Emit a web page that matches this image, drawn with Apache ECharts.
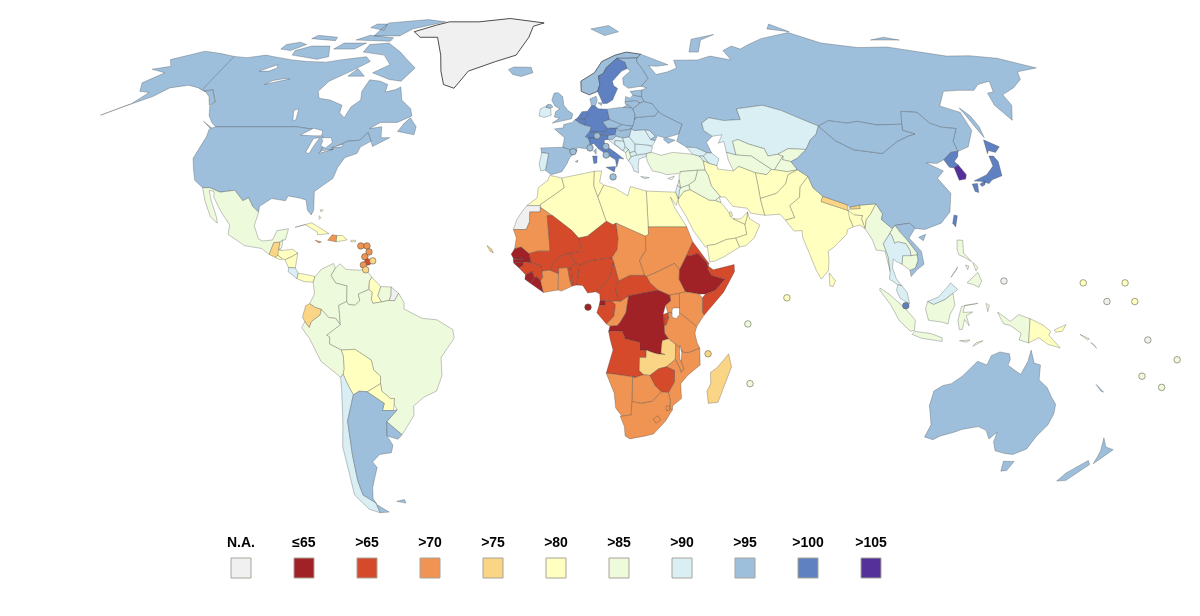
<!DOCTYPE html>
<html>
<head>
<meta charset="UTF-8">
<title>World map</title>
<script src="https://cdn.jsdelivr.net/npm/echarts/dist/echarts.min.js"></script>
<style>
  html, body { margin: 0; padding: 0; background: #fff; }
  #chart { width: 1200px; height: 616px; }
</style>
</head>
<body>
<div id="chart"></div>
<script>
// legend
const bandLabels = ['N.A.', '≤65', '>65', '>70', '>75', '>80', '>85', '>90', '>95', '>100', '>105'];
const bandColors = ['#f0f0f0', '#a02126', '#d44a2b', '#ef9452', '#fbd586', '#ffffc0', '#eefadc', '#d9eff4', '#9dbfdc', '#5f81c1', '#55309a'];
const bandScores = [0, 62, 68, 73, 78, 83, 88, 93, 98, 103, 107];

// which region falls in which band
const regionsNA = ['Greenland', 'Western Sahara', 'French Guiana'];
const regions65 = ['Senegal', 'Gambia', 'Guinea-Bissau', 'Sierra Leone', 'Liberia', 'Equatorial Guinea', 'DR Congo', 'Ethiopia'];
const regionsOver65 = ['Mali', 'Niger', 'Nigeria', 'Guinea', 'Burkina Faso', 'Togo', 'Benin', 'Cameroon', 'Central African Rep.', 'Gabon', 'Angola', 'Zimbabwe', 'Rwanda', 'Burundi', 'Eritrea', 'Somalia', 'Djibouti'];
const regionsOver70 = ['Mauritania', 'Chad', 'Sudan', 'South Sudan', 'Ghana', 'Ivory Coast', 'Congo', 'Kenya', 'Uganda', 'Tanzania', 'Malawi', 'Mozambique', 'Botswana', 'Namibia', 'South Africa', 'Lesotho', 'Eswatini', 'Haiti', 'Jamaica'];
const regionsOver75 = ['Zambia', 'Madagascar', 'Guatemala', 'Ecuador', 'Nepal', 'Bhutan', 'Cape Verde'];
const regionsOver80 = ['Morocco', 'Algeria', 'Tunisia', 'Libya', 'Egypt', 'Saudi Arabia', 'Yemen', 'Oman', 'UAE', 'Qatar', 'Iran', 'Afghanistan', 'Pakistan', 'India', 'Bangladesh', 'Sri Lanka', 'Papua New Guinea', 'Cuba', 'Dominican Rep.', 'Puerto Rico', 'Bahamas', 'Honduras', 'El Salvador', 'Nicaragua', 'Panama', 'Guyana', 'Bolivia', 'Paraguay'];
const regionsOver85 = ['Mexico', 'Belize', 'Colombia', 'Venezuela', 'Suriname', 'Brazil', 'Peru', 'Turkey', 'Iraq', 'Syria', 'Jordan', 'Lebanon', 'Kuwait', 'Cyprus', 'Uzbekistan', 'Turkmenistan', 'Kyrgyzstan', 'Tajikistan', 'Myanmar', 'Laos', 'Cambodia', 'Indonesia', 'Philippines', 'Albania', 'Solomon Islands'];
const regionsOver90 = ['Chile', 'Costa Rica', 'Ireland', 'Portugal', 'Croatia', 'Bosnia', 'Serbia', 'Montenegro', 'North Macedonia', 'Greece', 'Bulgaria', 'Romania', 'Moldova', 'Kazakhstan', 'Georgia', 'Armenia', 'Azerbaijan', 'Israel', 'Thailand', 'Malaysia'];
const regionsOver95 = ['Canada', 'United States', 'Iceland', 'Svalbard', 'Argentina', 'Uruguay', 'Falklands', 'Norway', 'Finland', 'Denmark', 'United Kingdom', 'France', 'Spain', 'Poland', 'Czechia', 'Slovakia', 'Hungary', 'Slovenia', 'Ukraine', 'Belarus', 'Lithuania', 'Latvia', 'Estonia', 'Russia', 'China', 'Mongolia', 'Vietnam', 'Australia', 'New Zealand', 'New Caledonia'];
const regionsOver100 = ['Sweden', 'Netherlands', 'Belgium', 'Germany', 'Switzerland', 'Austria', 'Italy', 'North Korea', 'Japan', 'Taiwan'];
const regionsOver105 = ['South Korea'];
const bandRegions = [regionsNA, regions65, regionsOver65, regionsOver70, regionsOver75, regionsOver80, regionsOver85, regionsOver90, regionsOver95, regionsOver100, regionsOver105];

// small states that the map marks with a dot: name, lon, lat, band index
const dotNames = ['Pohnpei', 'Marshall Is.', 'Nauru', 'Kiribati', 'Tuvalu', 'Samoa', 'Tonga', 'Fiji', 'Palau', 'Maldives', 'Seychelles', 'Comoros', 'Mauritius', 'Sao Tome', 'Antigua', 'Dominica', 'Martinique', 'St Lucia', 'Grenada', 'Barbados', 'St Vincent', 'Trinidad', 'Liechtenstein', 'Andorra', 'Monaco', 'San Marino', 'Vatican', 'Malta', 'Singapore'];
const dotLons = [157.5, 170.3, 164.4, 172.9, 177.4, 187.3, 184.6, 177.6, 133.3, 66.8, 54.9, 43, 56.5, 6.1, -64, -62.1, -61.3, -62.5, -61.5, -60, -62.8, -62, 10, 1.7, 7.4, 12.8, 12.7, 14.6, 103];
const dotLats = [7, 7, 2, 2, -8.3, -13.6, -21, -18, 7.5, 3, -4, -12, -20, 0.5, 16.9, 16.9, 15.3, 14, 12.6, 12.9, 11.8, 10.5, 46.5, 42.2, 43.2, 43.6, 41.3, 35.4, 0.9];
const dotBands = [5, 5, 0, 5, 0, 6, 6, 6, 0, 5, 6, 4, 6, 1, 3, 3, 3, 3, 2, 4, 3, 4, 8, 8, 8, 8, 8, 8, 9];

// hand traced outlines, lon lat pairs, '|' separates the parts of a region
const regionShapes = {
  'Canada': '-141 69.6 -135 69.2 -128 70 -124 69.5 -115 68.5 -108 68 -100 67.8 -95 68.5 -90 69 -85 69.5 -82 68 -87 65 -93 62 -94.5 59 -92.5 57 -88 56.5 -82.5 55 -82 52.9 -79.5 51.5 -79 54.5 -76.7 56.5 -78 59 -77.5 62.4 -73 62 -69.5 61 -69 58.8 -65.5 59.5 -64 60.3 -61.5 56.5 -57 54 -55.7 52 -60 50.2 -66 50.2 -69 48.5 -65 49 -64.5 47.5 -64 46 -61 46 -66 43.6 -67 45 -69 47.4 -71 45.3 -75 45 -79 43.3 -79 42.8 -83 42 -82.5 45.3 -84.5 46.5 -88.5 48.3 -95 49 -123 49 -125 50 -128 52 -130.5 54.7 -130 56 -135 59.5 -137.5 59 -141 60|-62 66 -65 62 -70 62.5 -78 64.5 -73 67 -78 70 -88 71 -88 73.5 -80 74 -72 71 -68 69|-117 70 -105 68.7 -101 69.5 -105 73 -113 73 -118 71.5|-125 72 -120 71.5 -116 73.5 -120 74.3 -125 73.5|-90 76.5 -78 76.5 -75 79 -62 82 -72 83 -90 81.5 -90 79|-96 75 -80 74.6 -80 75.8 -92 76.7|-96 79.5 -88 78.5 -90 81 -95 81|-117 75.5 -105 74.8 -106 76 -116 76.7|-102 72 -93 72 -90 74 -100 74|-87 63.5 -80.5 63.5 -85 65.8|-59 47.7 -53 46.8 -53 49 -56 51.5 -57.5 50|-128.5 50.5 -123.5 48.4 -125 48.8',
  'United States': '-123 49 -95 49 -88.5 48.3 -84.5 46.5 -82.5 45.3 -83 42 -79 42.8 -79 43.3 -75 45 -71 45.3 -69 47.4 -67 45 -70 43.5 -70.5 41.7 -74 40.6 -75.5 38 -76 35 -81 31.5 -80 26.5 -80.5 25.2 -82 26.5 -83 29.2 -85 29.7 -89 30.3 -89.5 29 -94 29.6 -97.3 27.5 -97.2 25.9 -99.5 27.5 -101.4 29.8 -103 29 -106.5 31.8 -111 31.3 -114.8 32.5 -117.1 32.5 -120.5 34.5 -122.5 37.5 -124.3 40.4 -124 46.3 -124.7 48.4|-141 69.6 -148 70.5 -156.5 71.3 -166 68.6 -162 66.5 -168 65.6 -161 64.5 -165 61.5 -162 59 -158 58.7 -160 55.5 -167 52.2 -162 54.5 -155 57.5 -152 60 -146 60.8 -141 60 -137.5 59 -135 59.5 -130 56 -131 55 -134 57.5 -139 59.8',
  'Greenland': '-73 78 -68 76 -60 76 -54 70 -51 65 -48 61 -43.5 59.9 -40 65 -30 68 -22 70 -18 76 -17 80 -12 81.5 -30 83.5 -45 82 -60 82 -65 80.5',
  'Iceland': '-24 65.5 -22 64 -18.5 63.4 -14 64.5 -15 66.2 -22 66.3',
  'Svalbard': '11 79 17 76.6 24 78 20 80.3',
  'Mexico': '-117.1 32.5 -114.8 32.5 -111 31.3 -106.5 31.8 -103 29 -101.4 29.8 -99.5 27.5 -97.2 25.9 -97.8 22.3 -95.9 18.8 -94.5 18.2 -91.5 18.5 -90.5 21 -87 21.5 -87.5 18.5 -88.3 18.5 -89.1 17.9 -91 17.8 -92 14.6 -94.5 16.2 -100 17 -105.5 20 -105.5 22.5 -109 26 -112.5 30 -113 31.5 -114.7 31.8 -113 29 -110 24.5 -109.5 23 -112 24.7 -115 29',
  'Guatemala': '-92 14.6 -91 17.8 -89.1 17.9 -89.2 15.9 -88.2 15.7 -89.3 14.4 -90 13.8',
  'Belize': '-88.3 18.5 -89.1 17.9 -89.2 15.9 -88.4 16.4',
  'Honduras': '-89.2 15.9 -88.2 15.7 -85 16 -83.2 15 -85 14 -87 13.2 -87.8 13.4 -89.3 14.4',
  'El Salvador': '-90 13.8 -89.3 14.4 -87.8 13.4 -88.5 13.2',
  'Nicaragua': '-87 13.2 -85 14 -83.2 15 -83.6 11 -85.7 11.1',
  'Costa Rica': '-85.7 11.1 -83.6 11 -82.6 9.6 -82.9 8.1 -85.7 10',
  'Panama': '-82.9 8.1 -82.6 9.6 -80 9.2 -77.4 8.7 -77.9 7.2 -80.5 7.3',
  'Cuba': '-85 21.9 -80 23.1 -74.2 20.2 -77.7 19.9 -78 20.7 -82 22.6',
  'Haiti': '-74.4 18.4 -71.7 18 -71.7 19.7 -73.2 19.9',
  'Dominican Rep.': '-71.7 18 -68.4 18.5 -69.9 19.7 -71.7 19.7',
  'Jamaica': '-78.3 18.4 -76.3 18 -77 17.7',
  'Puerto Rico': '-67.2 18.4 -65.7 18.4 -65.8 18 -67.2 18',
  'Bahamas': '-78 26.6 -77 26.5 -77.6 26|-78 25 -77.3 24.5 -77.8 24',
  'Colombia': '-77.4 8.7 -75.5 10.7 -72 12.2 -71.3 11 -72.5 9 -71 7 -67.5 6.2 -67.5 2 -69.9 1 -69.5 -4.2 -70.9 -2.5 -73 -2.3 -75.2 -0.1 -77 0.4 -78.8 1.4 -77.4 4 -77.9 7.2',
  'Venezuela': '-71.3 11 -70 12.1 -68 10.6 -64 10.4 -62 10.7 -60 8.5 -60.7 7.5 -61 5.2 -60.7 5.2 -64 4 -63.5 2.2 -65 1 -66.9 1.2 -67.5 2 -67.5 6.2 -71 7 -72.5 9',
  'Guyana': '-60 8.5 -57.2 6 -58 3.5 -56.8 1.9 -59.5 1.5 -60 2.5 -59.8 4.5 -60.7 5.2 -61 5.2 -60.7 7.5',
  'Suriname': '-57.2 6 -54 5.9 -54 3.6 -54.6 2.3 -56.8 1.9 -58 3.5',
  'French Guiana': '-54 5.9 -51.7 4.2 -52.9 2.2 -54.6 2.3 -54 3.6',
  'Brazil': '-51.7 4.2 -50 1.7 -50 0 -44.5 -2.5 -40 -2.9 -35.2 -5.5 -34.8 -7.8 -39 -13 -39 -17.9 -41 -22 -45 -23.6 -48.5 -26 -48.7 -28.5 -53.4 -33.7 -57.6 -30.2 -53.8 -27 -54.6 -25.6 -54.3 -24 -55.5 -24 -58 -22 -58.2 -20 -58 -18 -60 -16.3 -60.5 -13.7 -65.3 -10.8 -69.5 -11 -73 -9.4 -72.9 -7.5 -73.8 -7 -69.5 -4.2 -69.9 1 -67.5 2 -66.9 1.2 -65 1 -63.5 2.2 -64 4 -60.7 5.2 -59.8 4.5 -60 2.5 -59.5 1.5 -56.8 1.9 -54.6 2.3 -52.9 2.2',
  'Ecuador': '-80 0.9 -78.8 1.4 -77 0.4 -75.2 -0.1 -75.6 -1.6 -78.3 -3.4 -79 -5 -80.3 -3.4 -81 -2.2',
  'Peru': '-80.3 -3.4 -79 -5 -78.3 -3.4 -75.6 -1.6 -75.2 -0.1 -73 -2.3 -70.9 -2.5 -69.5 -4.2 -73.8 -7 -72.9 -7.5 -73 -9.4 -69.5 -11 -69 -12.5 -69 -16 -69.5 -17.5 -70.4 -18.3 -76 -14 -79 -8 -81.3 -5',
  'Bolivia': '-69.5 -11 -65.3 -10.8 -60.5 -13.7 -60 -16.3 -58 -18 -58.2 -20 -62.6 -22.2 -65 -22 -67 -23 -68.5 -20 -69.5 -17.5 -69 -16 -69 -12.5',
  'Paraguay': '-58.2 -20 -58 -22 -55.5 -24 -54.3 -24 -54.6 -25.6 -55 -27.2 -58.5 -27.2 -57.6 -25.3 -62.6 -22.2',
  'Chile': '-70.4 -18.3 -69.5 -17.5 -68.5 -20 -67 -23 -70 -30 -71 -39 -72 -46 -72 -50 -69 -52 -68.6 -52.7 -68.6 -55 -72 -54 -75 -50 -74 -44 -73.5 -37 -71.5 -30 -70.5 -22',
  'Argentina': '-65 -22 -62.6 -22.2 -57.6 -25.3 -58.5 -27.2 -55 -27.2 -53.8 -27 -57.6 -30.2 -58.3 -34 -57 -36.5 -58 -38.5 -62 -39 -65 -41 -64 -42.5 -66 -45.5 -67.7 -48 -69 -51 -68.5 -52.5 -69 -52 -72 -50 -72 -46 -71 -39 -70 -30 -67 -23|-68.6 -52.7 -65.2 -54.8 -68.6 -55',
  'Uruguay': '-57.6 -30.2 -53.4 -33.7 -55 -34.9 -58.3 -34',
  'Falklands': '-61 -51.8 -58 -51.3 -58 -52.3',
  'Norway': '5 59 5 62 10.5 64.5 14 68 20 70 25 71 31 70.3 29 69.1 25.7 69 20.5 69 15.5 66 14 64.2 12 63.5 12.3 61 11.2 59 8 58',
  'Sweden': '11.2 59 12.3 61 12 63.5 14 64.2 15.5 66 20.5 69 23.6 67.8 24 65.8 21.5 65 17.3 62 17.5 60.7 18.9 59.8 16.5 56.5 14.3 55.5 12.8 55.5',
  'Finland': '23.6 67.8 20.5 69 25.7 69 29 69.1 28.5 68 30 65.7 31.5 62.8 28 60.5 23 59.9 21.3 61 21.5 63 25 65 24 65.8',
  'Denmark': '8.1 56.8 8.6 54.9 9.9 54.8 10.8 56.3 10.5 57.6|11 55.7 12.6 55.7 12.2 54.9',
  'United Kingdom': '-5.5 50 1.3 51.2 1.7 52.6 0 53.5 -1.5 55 -2 57.5 -3.7 58.6 -5.2 58.5 -6 56.5 -4.8 54.8 -3 54 -4.5 53.2 -4.8 51.7 -3 51.4|-5.5 54.5 -6.2 55.2 -7.3 55.2 -8.1 54.4 -6.3 54.1',
  'Ireland': '-6 52.2 -6.3 54.1 -8.1 54.4 -7.3 55.2 -8.6 54.5 -10 54 -10.3 52 -8.5 51.6',
  'France': '-1.8 43.4 -1.2 46 -4.7 48.4 -1.6 48.7 -1.5 49.6 1.5 50.2 2.5 51 4.2 50 5.8 49.5 8.2 49 7.5 47.6 6 46.3 7 45.9 7.6 44 6 43 3 43.3 3 42.4 0.7 42.7|8.6 42.4 9.5 43 9.4 41.5',
  'Spain': '-9.2 43.2 -1.8 43.4 0.7 42.7 3 42.4 0.5 40.5 -0.3 39 -2 36.8 -5.5 36 -7.4 37.2 -7 39 -6.5 41.7 -8.8 41.9|2.4 39.5 3.3 39.9 3.1 39.3',
  'Portugal': '-8.8 41.9 -6.5 41.7 -7 39 -7.4 37.2 -8.9 37 -9.5 38.8',
  'Netherlands': '3.4 51.4 6 51 7.1 52.3 7 53.3 5 53.2',
  'Belgium': '2.5 51 3.4 51.4 6 51 6.3 50.2 5.8 49.5 4.2 50',
  'Germany': '6 51 7.1 52.3 7 53.3 8.6 54.9 9.9 54.8 11 54 14.2 53.9 14.7 51 12.2 50.3 13.8 48.6 13 47.5 9.6 47.5 7.5 47.6 8.2 49 5.8 49.5 6.3 50.2',
  'Switzerland': '6 46.3 7.5 47.6 9.6 47.5 10.4 46.8 9 45.9 7 45.9',
  'Austria': '9.6 47.5 13 47.5 13.8 48.6 17 48.7 16.2 46.9 13.7 46.5 12.2 46.6 10.4 46.8',
  'Italy': '7 45.9 9 45.9 10.4 46.8 12.2 46.6 13.7 46.5 13.6 45.5 12.3 45.3 12.5 44 16 41.9 18.5 40.2 16.9 40.4 16 38 15.7 40 12.2 41.8 10.2 43 8.8 44.4 7.6 44|12.5 38 15.6 38.2 15.1 36.7|8.2 41 9.7 41 9.5 39.1 8.5 39',
  'Poland': '14.2 53.9 19 54.4 23 54.3 23.5 54 24 52.5 23.6 51 22.6 49.1 19 49.4 18.8 49.6 14.7 51',
  'Czechia': '12.2 50.3 14.7 51 18.8 49.6 17 48.7 13.8 48.6',
  'Slovakia': '17 48.7 18.8 49.6 19 49.4 22.6 49.1 22 48.4 18 47.8',
  'Hungary': '17 48.7 18 47.8 22 48.4 21 46.2 18.7 45.9 16.5 46.4 16.2 46.9',
  'Slovenia': '13.7 46.5 16.2 46.9 16.5 46.4 15.2 45.5 13.6 45.5',
  'Croatia': '13.6 45.5 15.2 45.5 16.5 46.4 18.7 45.9 19 45 16 45.2 15.9 44.2 18.5 42.4 15 44.6',
  'Bosnia': '16 45.2 19 45 19.3 43.5 18.5 42.4 15.9 44.2',
  'Serbia': '18.7 45.9 21 46.2 22.7 44.3 22.5 42.3 20.6 41.9 20.3 42.8 19.3 43.5 19 45',
  'Montenegro': '18.5 42.4 19.3 43.5 20.3 42.8 19.3 41.9',
  'Albania': '19.3 41.9 20.3 42.8 20.6 41.9 21 40.8 20 39.7 19.4 40.5',
  'North Macedonia': '20.6 41.9 22.5 42.3 23 41.3 21 40.8',
  'Greece': '20 39.7 21 40.8 23 41.3 26.3 41.7 26 40.9 23.5 40.2 23 38 23 36.5 21.5 37 21 38.5|23.6 35.5 26.3 35.2 24.8 34.9',
  'Bulgaria': '22.7 44.3 27 44 28.5 43.5 27.8 42 26.3 41.7 23 41.3 22.5 42.3',
  'Romania': '21 46.2 22 48.4 23 48 26.6 48.2 28.2 45.5 29.7 45.2 28.6 43.8 27 44 22.7 44.3',
  'Moldova': '26.6 48.2 28.2 48 30 46.4 28.2 45.5',
  'Ukraine': '23.6 51 24 51.6 31 52 32.5 53.3 34 52.3 40 49.7 38.2 47 35 46.3 33.5 46 36.5 45.3 34 44.4 32.6 45.5 33 46 30.7 46.5 29.7 45.2 28.2 45.5 30 46.4 28.2 48 26.6 48.2 23 48 22 48.4 22.6 49.1',
  'Belarus': '23.6 51 24 51.6 31 52 32.5 53.3 30.8 55.5 28 56.1 26.5 55.7 23.5 54 24 52.5',
  'Lithuania': '21 56 21 55.3 23 54.3 23.5 54 26.5 55.7 25 56.4',
  'Latvia': '21 56 25 56.4 26.5 55.7 28 56.1 27.5 57.5 24.3 57.9 23 57 21.5 57.5',
  'Estonia': '23.5 59 28 59.4 27.5 57.5 24.3 57.9',
  'Russia': '31 70.3 41 67 36 66.5 33 66.7 35 64 40 64.8 44 66 44 68.4 54 68.5 60 69.7 68 68.5 67 71.5 72 73 75 72 80 73.5 88 75.5 104 77.7 113 74 127 72.5 140 72.7 160 69.7 170 69.8 180 69 190 66 180 64.8 177 62.5 170 60 163 58 162 55 157 50.8 155.7 55 158 58.5 160.6 58.8 164 62 158 61 154 59.3 148 59.3 142 59 135.5 54.8 141 53 140 48 135 43.5 130.7 42.3 130.7 43 131 45 135 48.5 130 48.9 127 50 125.5 53 120 53.3 117 49.7 108 49.5 102 50.5 98 50 92 50.7 87.5 49.2 83 51 77 53.5 71 55 61 54 61 51 55 50.7 50 51.5 47 50 47 48 49.5 46.4 47 44.7 48 41.8 46.5 41.9 43 43.3 40 43.4 37 45 38.2 47 40 49.7 34 52.3 32.5 53.3 30.8 55.5 28 56.1 27.5 57.5 28 59.4 30 60 28 60.5 31.5 62.8 30 65.7 28.5 68 29 69.1|52 71 56 75.3 68 77 60 75 56 71|142 54.3 143.5 52 143.5 49 142.5 46 142 49 142 52|20 54.4 22.8 54.4 22 55.2|96 79 105 78 100 81|137 75 150 75 145 76',
  'Turkey': '26.3 41.7 28 42 31 41.2 35 42 41.5 41.5 43.7 41 44.7 39.7 44.8 37.2 42.3 37.2 36.7 36.8 36 36.3 32 36 30.5 36.5 27.5 37 26.2 39.5 26 40.9',
  'Georgia': '40 43.4 43 43.3 46.5 41.9 45 41 43.7 41 41.5 41.5',
  'Armenia': '43.7 41 45 41 46.5 39 44.7 39.7',
  'Azerbaijan': '46.5 41.9 48 41.8 50 40.3 48.9 38.4 46.5 39 45 41',
  'Kazakhstan': '47 50 50 51.5 55 50.7 61 51 61 54 71 55 77 53.5 83 51 87.5 49.2 85.5 47 82.5 45.3 80 42.8 74 43 70 41.5 66.5 41 66 43 61 44.3 58 45.5 56 45 56 41.3 53 42 53 45 51 44.5 53 46.8 49.5 46.4 47 48',
  'Uzbekistan': '56 45 58 45.5 61 44.3 66 43 66.5 41 70 41.5 71.5 41 67.5 37.3 66.5 37.4 61 41 56 41.3',
  'Turkmenistan': '53 42 56 41.3 61 41 66.5 37.4 64.5 36 61 36.5 56 38.2 54 37 53 40',
  'Kyrgyzstan': '70 41.5 74 43 80 42.8 76 40.4 73.6 39.5 71 40 71.5 41',
  'Tajikistan': '67.5 37.3 71.5 41 71 40 73.6 39.5 75 37.3 71.5 36.8',
  'Afghanistan': '61 36.5 64.5 36 66.5 37.4 67.5 37.3 71.5 36.8 75 37.3 71.5 36 70 33.5 66.5 31 61 29.6 61 33.5',
  'Iran': '44.7 39.7 46.5 39 48.9 38.4 49 37.5 54 37 56 38.2 61 36.5 61 33.5 61 29.6 61.7 25.1 57.3 25.7 56.5 27 52 27.5 50 30 48.5 30 46 33 45.5 35.8 44.8 37.2',
  'Pakistan': '61.7 25.1 61 29.6 66.5 31 70 33.5 71.5 36 75 37.3 77.8 35.5 74.5 32.8 73.5 29.9 70 27.7 71 24.5 68 23.8 66.5 25.4',
  'India': '77.8 35.5 78.5 32.5 81 30.2 80.1 28.8 88.1 26.4 88.8 26.8 92 26.9 92 27.8 97.3 28.2 95 25.5 93.3 24 92.5 21.5 91.8 24.2 92.3 25 89.8 25.2 88.1 24.5 88.9 22 87 21.3 86.5 20 82 16.5 80.2 15.5 80.2 13 79.8 10.3 77.5 8 76 10.5 74.5 14.5 72.8 19 72.8 21 70.3 20.9 69 22.5 68 23.8 71 24.5 70 27.7 73.5 29.9 74.5 32.8',
  'Nepal': '80.1 28.8 81 30.2 88.2 27.9 88.1 26.4',
  'Bhutan': '88.8 27.3 92 27.8 92 26.9 88.8 26.8',
  'Bangladesh': '88.1 26.4 89.8 25.2 92.3 25 91.8 24.2 92.5 21.5 91 22.5 88.9 22 88.1 24.5',
  'Sri Lanka': '80 9.7 81.8 7.5 81 6 80 6.2',
  'Myanmar': '97.3 28.2 98.7 25.5 98 24 101 21.5 100 20.3 97.5 17.5 98.5 14 98.7 10 97.7 15.5 95 15.8 94.3 18.5 92.5 21.5 93.3 24 95 25.5',
  'China': '73.6 39.5 76 40.4 80 42.8 82.5 45.3 85.5 47 87.5 49.2 91 45.2 96 42.7 105 41.7 112 45 117 46.5 119.5 47 116 48 117 49.7 120 53.3 125.5 53 127 50 130 48.9 135 48.5 131 45 130.7 43 130.7 42.3 128 42 124.3 40 121.5 39 118 39.2 122.5 37 119.5 35 122 31 120 26 116.5 23 111 21.3 108 21.6 106.7 23 102 22.4 101 21.5 98 24 98.7 25.5 97.3 28.2 92 27.8 88.8 27.3 88.2 27.9 81 30.2 78.5 32.5 77.8 35.5 75 37.3|108.7 19.2 111 20 110 18.3',
  'Taiwan': '121 25.2 122 25 120.8 22 120.1 23',
  'Mongolia': '87.5 49.2 92 50.7 98 50 102 50.5 108 49.5 117 49.7 116 48 119.5 47 117 46.5 112 45 105 41.7 96 42.7 91 45.2',
  'North Korea': '124.3 40 128 42 130.7 42.3 129.5 40.8 127.5 39.5 128.3 38.6 126.5 37.8 125 38',
  'South Korea': '126.5 37.8 128.3 38.6 129.4 36 128.5 34.8 126.3 34.5',
  'Japan': '131 34.3 136 36 139.5 38.3 140 41 141.5 41 142 39.5 140.8 35.7 137 34.6 135.5 33.6 133 34.2|140 41.6 141.7 45.4 145.5 43.5 143 42 141 42.5|130 33.5 131.8 33.6 131 31.2 130 31.5|132.5 33.5 134.5 34.2 134 33.3 132.8 32.8',
  'Vietnam': '102 22.4 106.7 23 108 21.6 105.7 19 108.9 15.5 109.3 12 107 10.5 105 8.7 104.8 10.4 106.5 11 107.5 13 107.5 15 105 18.5 103 20.8',
  'Laos': '101 21.5 102 22.4 103 20.8 105 18.5 107.5 15 107.5 14.5 105.5 14.3 105.5 15.5 104.5 17.5 102 18 101 17.6 100.5 19.5 100 20.3',
  'Cambodia': '102.5 12 103 14.3 105.5 14.3 107.5 14.5 107.5 13 106.5 11 104.8 10.4',
  'Thailand': '100 20.3 100.5 19.5 101 17.6 102 18 104.5 17.5 105.5 15.5 105.5 14.3 103 14.3 102.5 12 100.9 12.7 100 13.4 99.5 11 100.5 8 102 6.2 100.8 6.5 98.3 8 98.7 10 98.5 14 97.5 17.5',
  'Malaysia': '100.8 6.5 102 6.2 103.5 4.5 104.2 1.4 101.3 2.9 100.3 5|109.7 2 111.5 1.2 115 2.5 117.5 4.2 119 5.2 117 7 115.5 5.5 113 3.2 111 2.5',
  'Indonesia': '109.7 2 111.5 1.2 115 2.5 117.5 4.2 118 1 116.5 -1.5 116 -4 114 -3.5 110 -3 109 0|95.3 5.6 98 4 103 0 106 -3 105.8 -5.8 104.5 -5.9 101 -3 98.5 1 95.2 5|105.2 -6.8 106 -6 111 -6.6 114.4 -7.7 114.5 -8.7 108 -7.8|119.5 -5.5 120.4 -5.5 121 -2.8 122.5 -4.5 121.5 -1.8 123.4 -0.8 120.5 -0.9 121 1 125 1.5 120 0.7 119 -3|131 -0.8 135 -3.3 137.5 -1.5 141 -2.6 141 -9.1 138 -8.3 138.5 -6.5 135 -4.4 133 -4 132 -2.5|124 -10 127 -8.5 125 -9|119.8 -8.5 123 -8.3 122 -8.9|127.5 1.5 128.5 1 128 -0.7',
  'Papua New Guinea': '141 -2.6 145 -4.3 147.5 -6 147 -7 150.8 -10.4 147 -9.5 144 -7.7 141 -9.1|148.5 -5.6 152 -4.2 151 -6 149 -6.2',
  'Philippines': '120.5 18.5 122.2 18.4 121.8 15 124 12.7 122 13.8 120.3 14.5 120 16|122 7 125.5 9.8 126.5 7.5 125.5 5.8 124 6.5|124.3 12.5 125.7 11.2 125 10.2|122 11.8 123 11.5 122.5 10.5|117.2 8.5 119.5 11.3 119 10.4',
  'Australia': '114 -22 116.5 -20.5 119 -20 122 -18 124 -16 126 -14 129 -15 130 -12.5 132.5 -11.5 135.5 -12 136 -13.5 135.5 -15 138 -16.5 140 -17.5 141.5 -14 142 -11 143.5 -14.5 145.5 -15 146 -19 149 -21 151 -23.5 153 -25.5 153.5 -28 153 -31 151 -34 150 -37.5 146.5 -39 143.5 -38.7 140 -38 138 -35.6 137.8 -33 136 -34.8 134 -32.5 131 -31.5 126 -32.3 124 -33 120 -34 118 -35 115 -34.3 115.7 -31 114 -27 113.5 -26|144.7 -40.8 148.3 -40.9 147.8 -43.3 146 -43.5',
  'New Zealand': '173 -34.5 175.5 -37 178.5 -37.7 175.2 -41.5 174.8 -39.5 174.6 -38|172.7 -40.6 174.2 -41.7 170.5 -46 167.5 -46.2 168.5 -44',
  'New Caledonia': '164 -20.2 167 -22.3 166 -22',
  'Solomon Islands': '156.5 -6.8 159.5 -8 159 -8.3|160 -9 162 -10.5 161 -9.5',
  'Saudi Arabia': '34.9 29.4 37 31.5 39 32 44.7 29.2 46.6 29.1 48.4 28.5 50 26.6 51.2 24.6 51.6 24.2 55.2 22.7 55.5 20 52 19 49 18.6 45.5 17.3 43 17 42.5 16.5 39 21 37 24.8 35 28',
  'Kuwait': '46.6 29.1 48.4 28.5 48 30',
  'Iraq': '39 32 44.7 29.2 46.6 29.1 48 30 48.5 30 46 33 45.5 35.8 44.8 37.2 42.3 37.2 41 34.5 38.8 33.3',
  'Jordan': '35 29.5 34.9 29.4 37 31.5 39 32 38.8 33.3 36 32.5 35.5 31.5',
  'Syria': '36 32.5 38.8 33.3 41 34.5 42.3 37.2 36.7 36.8 36 35.5 35.9 34.6',
  'Lebanon': '35.1 33.1 36 32.5 35.9 34.6',
  'Israel': '34.3 31.3 35 29.5 35.5 31.5 36 32.5 35.1 33.1',
  'Cyprus': '32.3 35 34.5 35.6 33.5 34.6',
  'Yemen': '43 17 45.5 17.3 49 18.6 52 19 53 16.6 48 14 45 12.8 43.5 12.7',
  'Oman': '52 19 55.5 20 55.2 22.7 56 24.5 56.4 26 56.8 24.2 59.8 22.5 57.7 19 55 17 53 16.6',
  'UAE': '51.6 24.2 55.2 22.7 56 24.5 56.4 26 54 24.1',
  'Qatar': '50.8 24.8 51.6 25 51.3 26.1 50.8 26',
  'Egypt': '25 31.6 34.3 31.3 34.9 29.5 34.2 27.8 32.5 30 33.7 27 37 22 31 22 25 22',
  'Morocco': '-5.9 35.8 -2 35.1 -1.2 32.5 -3.6 31 -8.7 28 -8.7 27.7 -13 27.7 -9.8 29.8 -9.5 32.5 -6.5 34.5',
  'Western Sahara': '-13 27.7 -8.7 27.7 -8.7 26 -12 26 -12 23.4 -13 21.3 -17 21.3 -16 24 -14.5 26',
  'Mauritania': '-17 21.3 -13 21.3 -12 23.4 -12 26 -8.7 26 -8.7 27.3 -4.8 25 -6.5 25 -5.5 15.5 -9.3 15.5 -12 14.8 -14.5 16.6 -16.5 16.1 -16 19',
  'Algeria': '-2 35.1 8.6 36.9 8.3 33 9.5 30 12 23.5 6 19.5 3.3 19 1.2 21 -4.8 25 -8.7 27.3 -8.7 28 -3.6 31 -1.2 32.5',
  'Tunisia': '8.6 36.9 11 37 10.2 34 11.5 33.2 9.5 30 8.3 33',
  'Libya': '11.5 33.2 15 32.4 19 30.3 20 32.8 25 31.6 25 22 25 20 24 19.5 15 23 14 22.6 12 23.5 9.5 30',
  'Mali': '-12 14.8 -9.3 15.5 -5.5 15.5 -6.5 25 -4.8 25 1.2 21 3.3 19 4.2 16 3.5 15.4 0.3 14.9 -2 14.2 -3.5 13.3 -4.5 12 -5.5 10.4 -8 10.2 -8.3 11.5 -11.4 12.4',
  'Niger': '3.3 19 6 19.5 12 23.5 14 22.6 15 23 15.5 19 15.2 16 13.5 13.7 10 13.3 7 13 3.6 11.7 2.3 12.2 0.3 14.9 3.5 15.4 4.2 16',
  'Chad': '15 23 24 19.5 24 15.7 22 13 23.5 9 19 9 15.5 7.5 14 12.5 13.5 13.7 15.2 16 15.5 19',
  'Sudan': '25 22 31 22 37 22 38.6 18 36.5 14.3 34.2 10.5 32.7 12.2 27 9.8 24 8.7 23.5 9 22 13 24 15.7 24 19.5 25 20',
  'South Sudan': '24 8.7 27 9.8 32.7 12.2 34.2 10.5 34 8 35.9 4.6 34 4.2 31 3.7 27.5 5 25 7',
  'Eritrea': '36.5 14.3 38.6 18 43 12.5 42.5 12.5 40 14.9 37.5 14.2',
  'Ethiopia': '34.2 10.5 36.5 14.3 37.5 14.2 40 14.9 42.5 12.5 43 11.5 42.8 10.7 44 9 48 8 45 5 42 4 40 4 35.9 4.6 34 8',
  'Djibouti': '42.5 12.5 43.3 12.4 43 11.5 42.8 10.7',
  'Somalia': '42.8 10.7 43 11.5 44.5 10.5 51 11.9 51 10 47.5 4.5 41.5 -1.7 41 -0.8 41 3 42 4 45 5 48 8 44 9',
  'Kenya': '34 4.2 35.9 4.6 40 4 41 3 41 -0.8 41.5 -1.7 39.3 -4.7 34 -1 34 1',
  'Uganda': '31 3.7 34 4.2 34 1 34 -1 30.5 -1 29.7 1 31.3 2.2',
  'Rwanda': '29 -1.5 30.5 -1 30.8 -2.3 29.2 -2.8',
  'Burundi': '29.2 -2.8 30.8 -2.3 30 -4.3 29.3 -4.5',
  'Tanzania': '30.5 -1 34 -1 39.3 -4.7 38.8 -6.5 39.5 -9 40.4 -10.5 37 -11.7 35 -11.6 34.9 -11 33 -9.5 30.7 -8 29.5 -6.5 29.3 -4.5 30 -4.3 30.8 -2.3',
  'Senegal': '-17.5 14.7 -16.5 16.1 -14.5 16.6 -12 14.8 -11.4 12.4 -13.7 12.6 -16.7 12.4 -16.8 13.2 -13.8 13.3 -13.8 13.7 -16.8 13.6',
  'Gambia': '-16.8 13.6 -13.8 13.7 -13.8 13.3 -16.8 13.2',
  'Guinea-Bissau': '-16.7 12.4 -13.7 12.6 -13.7 11.7 -15 11 -16.2 11.9',
  'Guinea': '-13.7 12.6 -11.4 12.4 -8.3 11.5 -8 10.2 -7.7 8.5 -8.4 7.6 -9.5 8.6 -10.3 8.4 -11 10 -13 9.2 -15 11 -13.7 11.7',
  'Sierra Leone': '-13 9.2 -11 10 -10.3 8.4 -11.5 6.9 -13.2 8',
  'Liberia': '-11.5 6.9 -10.3 8.4 -9.5 8.6 -8.4 7.6 -7.5 4.4',
  'Ivory Coast': '-8 10.2 -5.5 10.4 -2.9 9.5 -3 5.1 -7.5 4.4 -8.4 7.6 -7.7 8.5',
  'Ghana': '-2.9 11 -0.1 11.1 0.5 8 1.2 6.1 -2 4.8 -3 5.1 -2.9 9.5',
  'Burkina Faso': '-5.5 10.4 -4.5 12 -3.5 13.3 -2 14.2 0.3 14.9 2.3 12.2 0.9 11 -0.1 11.1 -2.9 11 -2.9 9.5',
  'Togo': '-0.1 11.1 0.9 11 1.6 6.2 1.2 6.1 0.5 8',
  'Benin': '0.9 11 2.3 12.2 3.6 11.7 2.7 6.4 1.6 6.2',
  'Nigeria': '2.7 6.4 3.6 11.7 7 13 10 13.3 13.5 13.7 14 12.5 13 9 11.5 6.8 8.5 4.6 6 4.3 4.5 6.3',
  'Cameroon': '8.5 4.6 11.5 6.8 13 9 14 12.5 15.5 7.5 14.5 6 15 3.7 16 2 13.3 2.2 9.8 2.3 9.7 4',
  'Central African Rep.': '14.5 6 15.5 7.5 19 9 23.5 9 24 8.7 25 7 27.5 5 22.5 4.2 18.5 3.5 16 2 15 3.7',
  'Equatorial Guinea': '9.8 2.3 11.3 2.2 11.3 1 9.5 1',
  'Gabon': '9.5 1 11.3 1 11.3 2.2 13.3 2.2 14.5 1.2 14 -2 11.7 -4 8.8 -1',
  'Congo': '13.3 2.2 16 2 18.5 3.5 17.7 -1 16 -3.5 15 -4.5 12.8 -4.6 11.7 -4 14 -2 14.5 1.2',
  'DR Congo': '18.5 3.5 22.5 4.2 27.5 5 31 3.7 31.3 2.2 29.7 1 29 -1.5 29.2 -2.8 29.3 -4.5 29.5 -6.5 30.7 -8 28.8 -8.5 28.5 -11.8 29.8 -12.2 27.2 -12 25.5 -11.5 24 -11 22 -11 22 -9 17.5 -8 16.5 -5.9 12.4 -6 12.8 -4.6 15 -4.5 16 -3.5 17.7 -1',
  'Angola': '12.4 -6 16.5 -5.9 17.5 -8 22 -9 22 -11 24 -11 24 -13 22 -13 22 -16.5 23.4 -17.6 20.9 -18.3 14 -17.4 11.8 -17.2 13.8 -11 13 -8.5',
  'Zambia': '22 -13 24 -13 24 -11 25.5 -11.5 27.2 -12 29.8 -12.2 28.5 -11.8 28.8 -8.5 30.7 -8 33 -9.5 33 -13.5 30.3 -15.5 28 -16 25.3 -17.8 23.4 -17.6 22 -16.5',
  'Malawi': '33 -9.5 34.9 -11 34.3 -12 35 -14.5 35.8 -16 35 -17 34.3 -15.5 33 -13.5',
  'Mozambique': '40.4 -10.5 40.7 -15 37 -17.8 35 -20 35.5 -24 32.9 -25.9 32.9 -27 32 -26.8 32 -24.5 31.3 -22.4 33 -19.5 32.9 -16.5 30.3 -15.5 33 -13.5 34.3 -15.5 35 -17 35.8 -16 35 -14.5 34.3 -12 34.9 -11 35 -11.6 37 -11.7',
  'Zimbabwe': '25.3 -17.8 28 -16 30.3 -15.5 32.9 -16.5 33 -19.5 31.3 -22.4 29 -22.2 27 -20.5',
  'Botswana': '20 -18 20.9 -18.3 23.4 -17.6 25.3 -17.8 27 -20.5 29 -22.2 26.5 -24.7 23 -25.3 20 -24.8 20 -22',
  'Namibia': '11.8 -17.2 14 -17.4 20.9 -18.3 20 -18 20 -22 20 -28.4 17 -28.7 15 -26.5 14.4 -22.5',
  'South Africa': '16.5 -28.7 17 -28.7 20 -28.4 20 -24.8 23 -25.3 26.5 -24.7 29 -22.2 31.3 -22.4 32 -24.5 32 -26.8 32.9 -27 31 -30 27.5 -33.5 25 -34 20 -34.8 18.4 -34 18 -31.5',
  'Lesotho': '27 -29.5 28.5 -28.6 29.4 -29.8 28 -30.6',
  'Eswatini': '30.8 -26 32 -26 32 -27.2 31 -27.2',
  'Madagascar': '49.3 -12 50.4 -15.5 47 -25 44 -25.3 43.3 -22 44.3 -20 44 -17 46 -15.7 48 -13.5',
  'Cape Verde': '-25 17 -24 15.5 -23 15 -23.5 16',
  // lakes stay white and go last, on top of the land
  'Lake Superior': '-92 46.7 -88.5 48.6 -85 47.9 -84.6 46.5 -87.5 46.5',
  'Lake Michigan': '-87.8 42 -87 45.8 -85 46 -85.8 44 -86.5 41.7',
  'Lake Huron': '-84.5 46 -81 46 -80 44.6 -81.7 43.2 -83.5 43.7 -83.5 45.2',
  'Lake Erie': '-83.4 41.7 -79 42.8 -79.2 43 -82.5 42.5',
  'Lake Ontario': '-79.7 43.3 -76.2 44.2 -76.2 43.5 -79 43.3',
  'Great Bear Lake': '-124 65 -119 67 -118 66 -120 65',
  'Great Slave Lake': '-117 61 -109 62.7 -111 62.8 -115 62.2',
  'Lake Winnipeg': '-99 53.5 -97.5 54 -96.3 51 -97 50.5',
  'Lake Victoria': '31.7 -0.5 32 0.3 34 0.3 34 -1.5 33 -2.6 31.8 -2.2',
  'Lake Malawi': '34.3 -9.7 34.9 -11.6 34.8 -14 34.4 -13.5 34.2 -11.5'
};

// Robinson projection tables, every 5 degrees of latitude
const robinsonX = [1, .9986, .9954, .99, .9822, .973, .96, .9427, .9216, .8962, .8679, .835, .7986, .7597, .7186, .6732, .6213, .5722, .5322];
const robinsonY = [0, .062, .124, .186, .248, .31, .372, .434, .4958, .5571, .6176, .6769, .7346, .7903, .8435, .8936, .9394, .9761, 1];
const pxPerDegree = 3.28, mapHeight = 301, originX = 568, originY = 309;

function lerpTable(table, lat) {
    const t = Math.min(Math.abs(lat), 89.99) / 5, i = Math.floor(t);
    return table[i] + (table[i + 1] - table[i]) * (t - i);
}
function project(p) {
    const k = p[1] < 0 ? -1 : 1;
    return [originX + pxPerDegree * lerpTable(robinsonX, p[1]) * p[0], originY - k * mapHeight * lerpTable(robinsonY, p[1])];
}
function unproject(p) {
    const y = (originY - p[1]) / mapHeight, a = Math.abs(y);
    let i = 0;
    while (i < 17 && robinsonY[i + 1] < a) i++;
    const lat = 5 * (i + (a - robinsonY[i]) / (robinsonY[i + 1] - robinsonY[i])) * (y < 0 ? -1 : 1);
    return [(p[0] - originX) / (pxPerDegree * lerpTable(robinsonX, lat)), lat];
}

function parseRing(text) {
    const nums = text.trim().split(/\s+/).map(Number), ring = [];
    for (let i = 0; i < nums.length; i += 2) ring.push([nums[i], nums[i + 1]]);
    ring.push(ring[0]);
    return ring;
}

const features = Object.keys(regionShapes).map(name => ({
    type: 'Feature',
    properties: { name: name },
    geometry: { type: 'MultiPolygon', coordinates: regionShapes[name].split('|').map(r => [parseRing(r)]) }
}));
echarts.registerMap('scoreWorld', { type: 'FeatureCollection', features: features });

// keep the map at its own pixel scale: the view box is the projected extent
let minX = Infinity, maxX = -Infinity, minY = Infinity, maxY = -Infinity;
features.forEach(f => f.geometry.coordinates.forEach(poly => poly[0].forEach(c => {
    const q = project(c);
    minX = Math.min(minX, q[0]); maxX = Math.max(maxX, q[0]);
    minY = Math.min(minY, q[1]); maxY = Math.max(maxY, q[1]);
})));

const mapData = [];
bandRegions.forEach((names, b) => names.forEach(name => mapData.push({ name: name, value: bandScores[b] })));
const dotData = dotNames.map((name, i) => ({ name: name, value: [dotLons[i], dotLats[i], bandScores[dotBands[i]]] }));
const bandPieces = bandScores.map((s, i) => ({ min: s - 0.5, max: s + 0.5, color: bandColors[i] }));

const chart = echarts.init(document.getElementById('chart'), null, { renderer: 'canvas' });
chart.setOption({
    animation: false,
    backgroundColor: '#fff',
    geo: {
        map: 'scoreWorld',
        projection: { project: project, unproject: unproject },
        layoutCenter: [(minX + maxX) / 2, (minY + maxY) / 2],
        layoutSize: Math.max(maxX - minX, maxY - minY),
        roam: false,
        silent: true,
        label: { show: false },
        itemStyle: { areaColor: '#fff', borderColor: 'rgba(60,60,60,0.6)', borderWidth: 0.5 },
        // these coasts are drawn darker in the original
        regions: [
            { name: 'Greenland', itemStyle: { borderColor: '#222', borderWidth: 0.8 } },
            { name: 'Norway', itemStyle: { borderColor: '#333', borderWidth: 0.7 } }
        ],
        emphasis: { disabled: true },
        select: { disabled: true }
    },
    visualMap: [
        { show: false, type: 'piecewise', seriesIndex: 0, pieces: bandPieces },
        { show: false, type: 'piecewise', seriesIndex: 1, dimension: 2, pieces: bandPieces }
    ],
    grid: { left: 209.5, width: 693, top: 558, height: 20 },
    xAxis: {
        type: 'category',
        position: 'top',
        data: bandLabels,
        axisLine: { show: false },
        axisTick: { show: false },
        splitLine: { show: false },
        axisLabel: { interval: 0, margin: 8, color: '#000', fontSize: 14, fontWeight: 'bold', fontFamily: 'Liberation Sans' }
    },
    yAxis: { type: 'category', data: [''], show: false },
    series: [
        { type: 'map', geoIndex: 0, data: mapData, silent: true },
        {
            type: 'scatter',
            coordinateSystem: 'geo',
            geoIndex: 0,
            data: dotData,
            symbolSize: 6.5,
            silent: true,
            itemStyle: { borderColor: 'rgba(90,90,70,0.7)', borderWidth: 0.8, opacity: 1 }
        },
        {
            type: 'scatter',
            xAxisIndex: 0,
            yAxisIndex: 0,
            symbol: 'rect',
            symbolSize: 20,
            silent: true,
            data: bandLabels.map((label, i) => ({
                value: [i, 0],
                itemStyle: { color: bandColors[i], borderColor: '#a8a498', borderWidth: 1, opacity: 1 }
            }))
        }
    ]
});
</script>
</body>
</html>
